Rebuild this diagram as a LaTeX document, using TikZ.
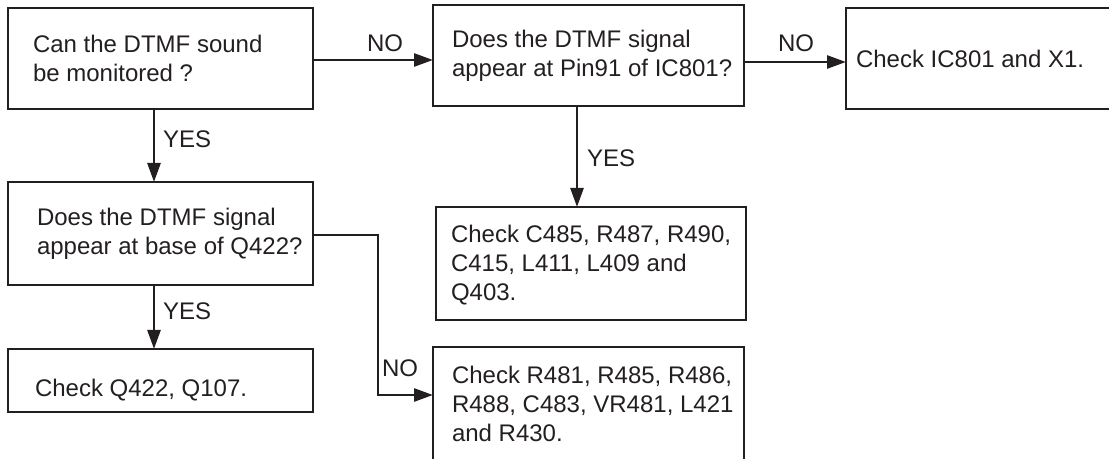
\documentclass[tikz,border=0pt]{standalone}
\usepackage{fontspec}
\setmainfont{Liberation Sans}
\usetikzlibrary{arrows.meta}
\definecolor{ink}{HTML}{231F20}
\begin{document}
\begin{tikzpicture}[x=0.5pt,y=-0.5pt,
  every node/.style={inner sep=0pt,outer sep=0pt,text=ink,font=\fontsize{12}{14.5}\selectfont},
  box/.style={draw=ink,line width=1.4pt,rectangle},
  txt/.style={anchor=base west},
  lbl/.style={anchor=base west},
  arr/.style={draw=ink,line width=1.3pt,-{Triangle[length=9.5pt,width=6.5pt]}}]
\useasboundingbox (0,0) rectangle (1109,459);
\clip (0,0) rectangle (1109,459);
% boxes
\node[box,minimum width=152.5pt,minimum height=50.5pt] (b1) at (160.5,58.5) {};
\node[box,minimum width=155.5pt,minimum height=50.5pt] (b2) at (588.5,55.5) {};
\node[box,minimum width=142pt,minimum height=50.5pt] (b3) at (988,58.5) {};
\node[box,minimum width=152.5pt,minimum height=51.5pt] (b4) at (160.5,233.5) {};
\node[box,minimum width=155pt,minimum height=56.5pt] (b5) at (591,263.5) {};
\node[box,minimum width=152.5pt,minimum height=31.5pt] (b6) at (160.5,380.5) {};
\node[box,minimum width=155.5pt,minimum height=66.5pt] (b7) at (588.5,413.5) {};
% texts
\node[txt] (t1) at (33,53) {\begin{tabular}[t]{@{}l@{}}Can the DTMF sound\\be monitored ?\end{tabular}};
\node[txt] (t2) at (452,48) {\begin{tabular}[t]{@{}l@{}}Does the DTMF signal\\appear at Pin91 of IC801?\end{tabular}};
\node[txt] (t3) at (856,68) {Check IC801 and X1.};
\node[txt] (t4) at (37,226) {\begin{tabular}[t]{@{}l@{}}Does the DTMF signal\\appear at base of Q422?\end{tabular}};
\node[txt] (t5) at (451,243) {\begin{tabular}[t]{@{}l@{}}Check C485, R487, R490,\\C415, L411, L409 and\\Q403.\end{tabular}};
\node[txt] (t6) at (35,397) {Check Q422, Q107.};
\node[txt] (t7) at (452,384) {\begin{tabular}[t]{@{}l@{}}Check R481, R485, R486,\\R488, C483, VR481, L421\\and R430.\end{tabular}};
% connectors
\draw[arr] (b1.east |- 0,60) -- (b2.west |- 0,60);
\draw[arr] (b2.east |- 0,62) -- (b3.west |- 0,62);
\draw[arr] (b1.south -| 154,0) -- (b4.north -| 154,0);
\draw[arr] (b2.south -| 577,0) -- (b5.north -| 577,0);
\draw[arr] (b4.south -| 154,0) -- (b6.north -| 154,0);
\draw[arr] (b4.east |- 0,235) -- (378,235) -- (378,395) -- (b7.west |- 0,395);
% labels
\node[lbl] (n1) at (367,52) {NO};
\node[lbl] (n2) at (778,52) {NO};
\node[lbl] (y1) at (163,148) {YES};
\node[lbl] (y2) at (587,167) {YES};
\node[lbl] (y3) at (163,320) {YES};
\node[lbl] (n3) at (382,377) {NO};
\end{tikzpicture}
\end{document}
